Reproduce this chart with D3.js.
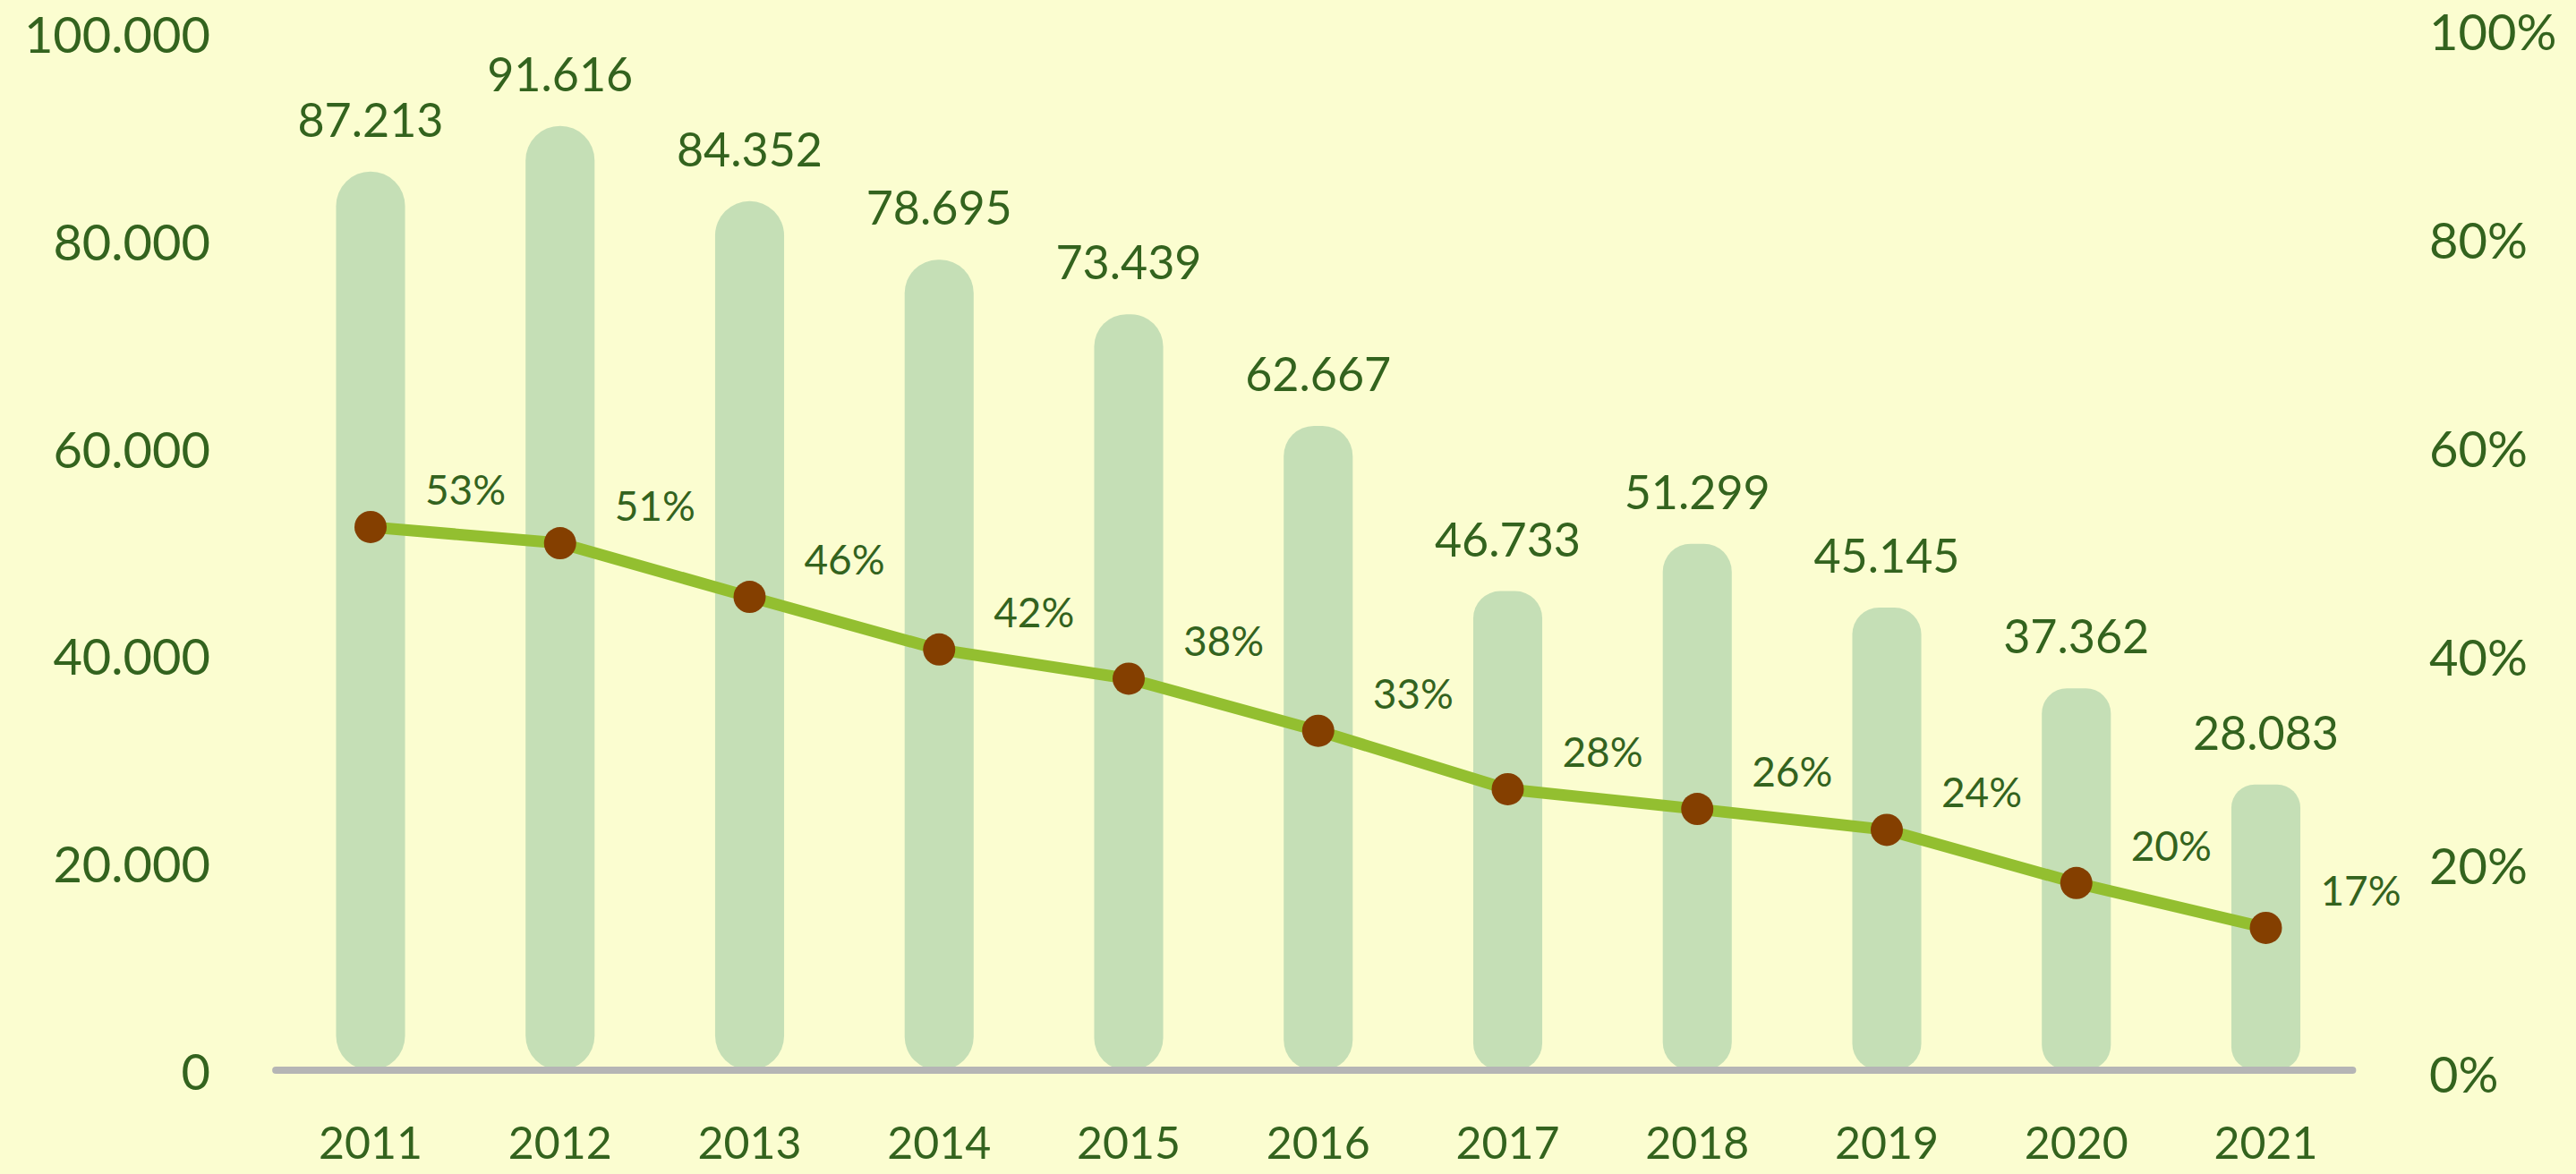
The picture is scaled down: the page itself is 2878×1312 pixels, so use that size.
<!DOCTYPE html>
<html>
<head>
<meta charset="utf-8">
<script src="https://cdn.jsdelivr.net/npm/d3@7"></script>
<style>
  html, body { margin: 0; padding: 0; background: #FBFDD0; }
  svg { display: block; }
  text { font-family: Lato, "Noto Sans", sans-serif; fill: #33631E; }
</style>
</head>
<body>
<svg id="chart" width="2878" height="1312"></svg>
<script>
// ---- data ----
const years = ["2011","2012","2013","2014","2015","2016","2017","2018","2019","2020","2021"];
const totals = [87213, 91616, 84352, 78695, 73439, 62667, 46733, 51299, 45145, 37362, 28083];
const shares = [0.5245, 0.509, 0.4575, 0.407, 0.379, 0.329, 0.273, 0.254, 0.234, 0.183, 0.140];
const shareLabels = ["53%","51%","46%","42%","38%","33%","28%","26%","24%","20%","17%"];
const leftTicks = [0, 20000, 40000, 60000, 80000, 100000];
const rightTicks = [0, 0.2, 0.4, 0.6, 0.8, 1.0];

// ---- setup ----
const W = 2878, H = 1312;
const svg = d3.select("#chart");
svg.append("rect").attr("width", W).attr("height", H).attr("fill", "#FBFDD0");

const loc = d3.formatLocale({decimal: ",", thousands: ".", grouping: [3], currency: ["", ""]});
const fmtNum = loc.format(",d");

const step = 211.75;
const x = d3.scaleBand()
  .domain(years)
  .range([414 - step / 2, 2531.5 + step / 2])
  .paddingInner(0.636)
  .paddingOuter(0.318);

const y = d3.scaleLinear().domain([0, 100000]).range([1202, 43.5]);
const yp = d3.scaleLinear().domain([0, 1]).range([1200, 35]);

const cx = d => x(d) + x.bandwidth() / 2;
const barBottom = y(0) - 6;

// ---- bars (pill shaped) ----
svg.append("g").selectAll("rect")
  .data(years)
  .join("rect")
  .attr("x", d => x(d))
  .attr("width", x.bandwidth())
  .attr("y", (d, i) => y(totals[i]))
  .attr("height", (d, i) => barBottom - y(totals[i]))
  .attr("rx", (d, i) => Math.min(x.bandwidth() / 2, 20 + 0.019 * (barBottom - y(totals[i]))))
  .attr("fill", "#C5DFB6");

// ---- baseline ----
svg.append("line")
  .attr("x1", x.range()[0]).attr("x2", x.range()[1] - 9)
  .attr("y1", 1196).attr("y2", 1196)
  .attr("stroke", "#B5B5B5").attr("stroke-width", 8).attr("stroke-linecap", "round");

// ---- value labels ----
svg.append("g").selectAll("text")
  .data(years)
  .join("text")
  .attr("x", d => cx(d))
  .attr("y", (d, i) => y(totals[i]) - 39)
  .attr("text-anchor", "middle")
  .attr("font-size", 52)
  .text((d, i) => fmtNum(totals[i]));

// ---- line ----
const line = d3.line()
  .x((d, i) => cx(years[i]))
  .y(d => yp(d));
svg.append("path")
  .datum(shares)
  .attr("d", line)
  .attr("fill", "none")
  .attr("stroke", "#93BF30")
  .attr("stroke-width", 13)
  .attr("stroke-linejoin", "round");

svg.append("g").selectAll("circle")
  .data(shares)
  .join("circle")
  .attr("cx", (d, i) => cx(years[i]))
  .attr("cy", d => yp(d))
  .attr("r", 18)
  .attr("fill", "#843F00");

svg.append("g").selectAll("text")
  .data(shares)
  .join("text")
  .attr("x", (d, i) => cx(years[i]) + 106)
  .attr("y", d => yp(d) - 25)
  .attr("text-anchor", "middle")
  .attr("font-size", 46)
  .text((d, i) => shareLabels[i]);

// ---- axes ----
const xAxis = svg.append("g")
  .attr("transform", "translate(0,1295)")
  .call(d3.axisBottom(x).tickSize(0).tickPadding(0));
xAxis.select(".domain").remove();
xAxis.selectAll("text")
  .attr("dy", 0)
  .attr("font-size", 50)
  .style("font-family", "Lato, 'Noto Sans', sans-serif")
  .attr("fill", "#33631E");

const yAxis = svg.append("g")
  .attr("transform", "translate(235,0)")
  .call(d3.axisLeft(y).tickValues(leftTicks).tickFormat(fmtNum).tickSize(0).tickPadding(0));
yAxis.select(".domain").remove();
yAxis.selectAll("text")
  .attr("dy", "0.36em")
  .attr("transform", "translate(0,-5)")
  .attr("font-size", 56)
  .style("font-family", "Lato, 'Noto Sans', sans-serif")
  .attr("fill", "#33631E");

const ypAxis = svg.append("g")
  .attr("transform", "translate(2714,0)")
  .call(d3.axisRight(yp).tickValues(rightTicks).tickFormat(d3.format(".0%")).tickSize(0).tickPadding(0));
ypAxis.select(".domain").remove();
ypAxis.selectAll("text")
  .attr("dy", "0.36em")
  .attr("font-size", 56)
  .style("font-family", "Lato, 'Noto Sans', sans-serif")
  .attr("fill", "#33631E");
</script>
</body>
</html>
